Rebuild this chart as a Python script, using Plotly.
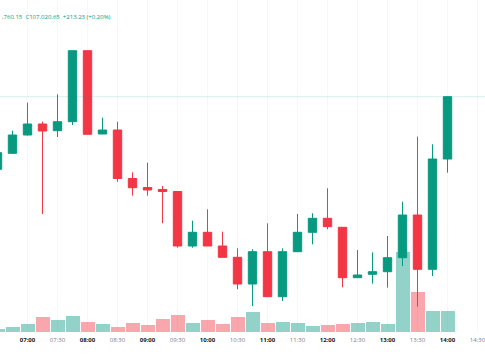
import plotly.graph_objects as go

# ---- data ----
day = "2025-06-10"
times = ["06:30", "06:45", "07:00", "07:15", "07:30", "07:45", "08:00", "08:15",
         "08:30", "08:45", "09:00", "09:15", "09:30", "09:45", "10:00", "10:15",
         "10:30", "10:45", "11:00", "11:15", "11:30", "11:45", "12:00", "12:15",
         "12:30", "12:45", "13:00", "13:15", "13:30", "13:45", "14:00"]
opens = [106772.00, 106826.80, 106889.48, 106927.15, 106904.20, 106935.03, 107178.20, 106892.90,
         106906.60, 106740.49, 106709.66, 106702.81, 106695.96, 106509.30, 106556.22, 106509.30,
         106470.60, 106379.15, 106489.78, 106335.65, 106489.78, 106556.22, 106604.17, 106573.35,
         106400.73, 106412.37, 106421.28, 106469.23, 106615.48, 106429.50, 106807.28]
highs = [106844.95, 106904.20, 107000.10, 106935.03, 107028.87, 107178.20, 107178.20, 106948.73,
         106935.03, 106761.72, 106794.60, 106714.80, 106695.96, 106595.95, 106635.00, 106558.28,
         106501.42, 106498.00, 106587.05, 106501.42, 106618.90, 106621.30, 106706.92, 106573.35,
         106495.60, 106487.72, 106543.55, 106661.03, 106883.65, 106857.62, 107020.65]
lows = [106762.75, 106824.40, 106887.76, 106618.90, 106882.63, 106923.73, 106891.87, 106892.90,
        106729.53, 106681.58, 106681.58, 106587.05, 106503.48, 106503.48, 106509.30, 106470.60,
        106361.00, 106303.80, 106335.65, 106320.93, 106489.78, 106515.12, 106566.50, 106367.85,
        106400.73, 106380.18, 106366.48, 106440.80, 106301.40, 106406.55, 106760.35]
closes = [106828.86, 106889.48, 106927.15, 106903.18, 106935.03, 107178.20, 106891.87, 106906.60,
          106740.49, 106708.98, 106701.10, 106695.96, 106509.30, 106556.22, 106509.30, 106470.60,
          106379.15, 106489.78, 106335.65, 106489.78, 106556.22, 106604.17, 106575.40, 106400.73,
          106409.98, 106421.28, 106469.23, 106615.48, 106429.50, 106807.28, 107020.65]
volumes = [15, 25, 42, 75, 58, 80, 52, 42, 25, 45, 34, 65, 84, 44, 58, 42,
           74, 100, 47, 49, 44, 30, 35, 40, 44, 49, 42, 400, 202, 105, 104]
tick_labels = ["07:00", "07:30", "08:00", "08:30", "09:00", "09:30", "10:00", "10:30",
               "11:00", "11:30", "12:00", "12:30", "13:00", "13:30", "14:00", "14:30"]
header_text = ",760.15  C107,020.65  +213.23 (+0.20%)"

UP = "#089981"
DOWN = "#F23645"
UP_VOL = "rgba(8,153,129,0.44)"
DOWN_VOL = "rgba(242,54,69,0.44)"

x = [f"{day} {t}" for t in times]
vol_colors = [UP_VOL if c >= o else DOWN_VOL for o, c in zip(opens, closes)]

fig = go.Figure()
fig.add_trace(go.Bar(
    x=x, y=volumes, marker=dict(color=vol_colors, line=dict(width=0)),
    width=14 * 60 * 1000, yaxis="y", hoverinfo="skip", showlegend=False,
))
fig.add_trace(go.Candlestick(
    x=x, open=opens, high=highs, low=lows, close=closes, yaxis="y2",
    increasing=dict(fillcolor=UP, line=dict(color=UP, width=1)),
    decreasing=dict(fillcolor=DOWN, line=dict(color=DOWN, width=1)),
    whiskerwidth=0, showlegend=False, hoverinfo="skip",
))

# last price line
fig.add_shape(type="line", xref="paper", x0=0, x1=1, yref="y2",
              y0=closes[-1], y1=closes[-1],
              line=dict(color="rgba(8,153,129,0.16)", width=1))

ticktext = []
for t in tick_labels:
    if t.endswith(":00"):
        ticktext.append(f"<b>{t}</b>")
    else:
        ticktext.append(f'<span style="color:#787b86">{t}</span>')

fig.update_layout(
    width=485, height=360,
    margin=dict(l=0, r=0, t=0, b=28),
    paper_bgcolor="white", plot_bgcolor="white",
    boxgap=0.2, bargap=0, showlegend=False, hovermode=False,
    font=dict(family="Open Sans, Liberation Sans, sans-serif", size=6, color="#131722"),
    xaxis=dict(
        type="date",
        range=[f"{day} 06:32:30", f"{day} 14:37:30"],
        tickvals=[f"{day} {t}" for t in tick_labels], ticktext=ticktext,
        showgrid=True, gridcolor="#f6f7f9", gridwidth=1,
        zeroline=False, showline=False, ticks="", ticklabelstandoff=3,
        ticklabeloverflow="allow",
        rangeslider=dict(visible=False),
        tickfont=dict(size=6, color="#131722"),
    ),
    yaxis=dict(range=[0, 1660], visible=False, showgrid=False, zeroline=False),
    yaxis2=dict(range=[106214.75, 107351.85], overlaying="y", visible=False,
                showgrid=False, zeroline=False),
    annotations=[dict(
        text=header_text, xref="paper", yref="paper", x=0, y=1 - 17 / 332,
        xanchor="left", yanchor="middle", showarrow=False,
        font=dict(size=6, color=UP),
    )],
)

fig.write_html("out.html", config={"displayModeBar": False, "staticPlot": True},
               post_script="document.body.style.margin='0';document.body.style.overflow='hidden';")
